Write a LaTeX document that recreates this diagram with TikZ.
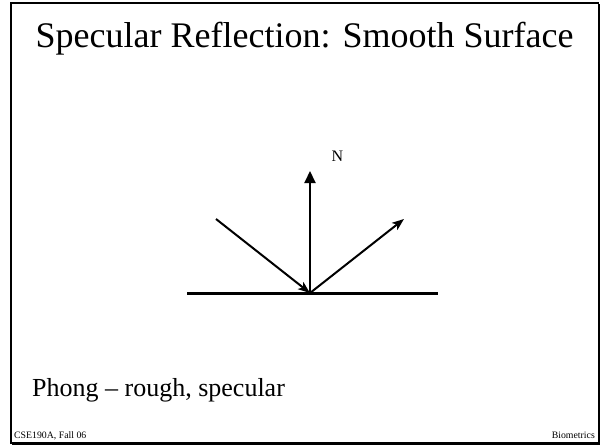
\documentclass[tikz,border=0pt]{standalone}
\usepackage{fontspec}
\setmainfont{Liberation Serif}
\usetikzlibrary{arrows.meta}
\tikzset{
  frame/.style={line width=1.6pt},
  shadowline/.style={line width=1pt},
  surface/.style={line width=3pt},
  ray/.style={line width=2pt},
  titletext/.style={font=\fontsize{36}{42}\selectfont, inner sep=0pt},
  bodytext/.style={font=\fontsize{26}{30}\selectfont, inner sep=0pt},
  foot/.style={font=\fontsize{9.8}{11}\selectfont, inner sep=0pt},
  lbl/.style={font=\fontsize{16}{18}\selectfont, inner sep=0pt}
}
\begin{document}
\begin{tikzpicture}[x=1pt,y=-1pt]
\useasboundingbox (0,0) rectangle (602,447);
\draw[frame] (11,3) rectangle (598.5,443);
\draw[shadowline] (12,444.3) -- (599.8,444.3) -- (599.8,4);
\node[titletext, anchor=base] (title) at (304.5,47) {Specular Reflection: Smooth Surface};
\coordinate (O) at (310,293);
\coordinate (sl) at (187,293);
\coordinate (sr) at (438,293);
\coordinate (ntop) at (310,171);
\coordinate (in) at (216,219);
\coordinate (out) at (404,219);
\draw[surface] (sl) -- (sr);
\draw[ray, -{Triangle[length=12pt,width=11pt]}] (O) -- (ntop);
\draw[ray, -{Stealth[length=12pt,width=9pt,inset=3pt]}] (in) -- (O);
\draw[ray, -{Stealth[length=12pt,width=9pt,inset=3pt]}] (O) -- (out);
\node[lbl] (N) at (337.5,156) {N};
\node[bodytext, anchor=base west] (phong) at (32,396) {Phong – rough, specular};
\node[foot, anchor=base west] (cse) at (14,438) {CSE190A, Fall 06};
\node[foot, anchor=base east] (bio) at (595,438) {Biometrics};
\end{tikzpicture}
\end{document}
